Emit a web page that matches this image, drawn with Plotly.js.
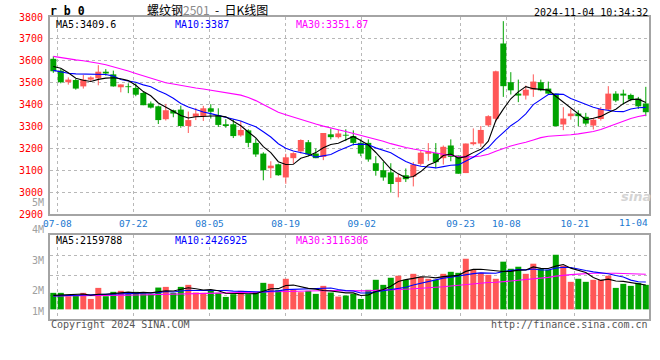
<!DOCTYPE html>
<html><head><meta charset="utf-8">
<script src="https://cdn.plot.ly/plotly-3.0.1.min.js"></script>
<style>html,body{margin:0;padding:0;background:#fff;}#chart{width:660px;height:360px;}</style>
</head><body><div id="chart"></div>
<script>
const dates = ['07-05',
'07-08','07-09','07-10','07-11','07-12','07-15','07-16','07-17','07-18','07-19',
'07-22','07-23','07-24','07-25','07-26','07-29','07-30','07-31','08-01','08-02',
'08-05','08-06','08-07','08-08','08-09','08-12','08-13','08-14','08-15','08-16',
'08-19','08-20','08-21','08-22','08-23','08-26','08-27','08-28','08-29','08-30',
'09-02','09-03','09-04','09-05','09-06','09-09','09-10','09-11','09-12','09-13',
'09-18','09-19','09-20','09-23','09-24','09-25','09-26','09-27','09-30',
'10-08','10-09','10-10','10-11','10-14','10-15','10-16','10-17','10-18',
'10-21','10-22','10-23','10-24','10-25','10-28','10-29','10-30','10-31','11-01','11-04'];

const open = [3609,3555,3502,3512,3483,3514,3520,3550,3538,3479,3483,3476,3453,3405,3392,3333,3374,3377,3302,3344,
3348,3383,3351,3310,3310,3259,3282,3225,3176,3109,3127,3067,3155,3186,3228,3176,3161,3264,3251,3262,
3256,3225,3225,3132,3100,3090,3046,3077,3071,3129,3175,3178,3155,3213,3167,3087,3219,3222,3305,3335,
3679,3502,3450,3441,3468,3502,3473,3450,3309,3347,3359,3344,3304,3334,3377,3450,3450,3444,3427,3405];
const high = [3620,3562,3524,3517,3535,3529,3580,3562,3555,3492,3497,3497,3458,3414,3395,3403,3377,3395,3368,3385,
3394,3402,3383,3333,3333,3325,3287,3245,3182,3141,3130,3175,3182,3241,3238,3199,3270,3290,3284,3287,
3282,3241,3241,3164,3139,3132,3083,3108,3137,3190,3224,3224,3213,3241,3167,3222,3291,3302,3351,3555,
3781,3548,3514,3487,3538,3514,3505,3450,3388,3380,3374,3362,3339,3389,3484,3461,3468,3450,3435,3481];
const low = [3545,3497,3491,3468,3473,3506,3488,3532,3482,3456,3452,3438,3397,3382,3311,3327,3342,3294,3270,3329,
3325,3336,3298,3294,3247,3253,3205,3161,3054,3064,3075,3038,3130,3176,3164,3155,3146,3241,3245,3233,
3213,3164,3139,3075,3052,2998,2976,3046,3026,3121,3143,3109,3126,3141,3084,3087,3213,3207,3299,3320,
3435,3446,3411,3423,3435,3461,3446,3301,3283,3331,3301,3304,3286,3327,3374,3411,3400,3415,3380,3347];
const close = [3552,3502,3514,3473,3514,3524,3550,3542,3483,3492,3480,3445,3397,3386,3329,3374,3359,3302,3329,3359,
3383,3367,3307,3302,3256,3284,3225,3172,3100,3121,3077,3159,3178,3238,3172,3155,3270,3251,3268,3258,
3225,3176,3149,3097,3067,3037,3067,3059,3126,3180,3186,3137,3207,3161,3084,3222,3228,3284,3347,3552,
3484,3465,3441,3468,3505,3465,3450,3301,3336,3359,3347,3313,3331,3380,3450,3418,3441,3423,3392,3365];

const ma5 = [3574,3566,3545,3520,3511,3505.4,3515,3520.6,3522.6,3518.2,3509.4,3488.4,3459.4,3440,3407.4,3386.2,3369,3350,3338.6,3344.6,
3346.4,3348,3349,3343.6,3323,3303.2,3274.8,3247.8,3207.4,3180.4,3139,3125.8,3127,3154.6,3164.8,3180.4,3202.6,3217.2,3223.2,3240.4,
3254.4,3235.6,3215.2,3181,3142.8,3105.2,3083.4,3065.4,3071.2,3093.8,3123.6,3137.6,3167.2,3174.2,3155,3162.2,3180.4,3195.8,3233,3326.6,
3379,3426.4,3457.8,3482,3472.6,3468.8,3465.8,3437.8,3411.4,3382.2,3358.6,3331.2,3337.2,3346,3364.2,3378.4,3404,3422.4,3424.8,3409.6];
const ma10 = [3556,3549,3543,3540,3539,3539,3539,3537,3530,3514.6,3507.4,3501.7,3490,3481.3,3462.8,3447.8,3428.7,3404.7,3389.3,3376,
3366.3,3358.5,3349.5,3341.1,3333.8,3324.8,3311.4,3298.4,3275.5,3251.7,3221.1,3200.3,3187.4,3181,3172.6,3159.7,3164.2,3172.1,3188.9,3202.6,
3217.4,3219.1,3216.2,3202.1,3191.6,3179.8,3159.5,3140.3,3126.1,3118.3,3114.4,3110.5,3116.3,3122.7,3124.4,3142.9,3159,3181.5,3203.6,3240.8,
3270.6,3303.4,3326.8,3357.5,3399.6,3423.9,3446.1,3447.8,3446.7,3427.4,3413.7,3398.5,3387.5,3378.7,3373.2,3368.5,3367.6,3379.8,3385.4,3387];
const ma30 = [3620,3614,3609,3604,3600,3596,3589,3582,3573,3564,3553,3542,3532,3520,3510,3500,3494,3487,3481,3476,
3471,3466,3459,3454,3449,3443,3432,3418,3400,3380.8,3364.9,3353.5,3342.3,3334.5,3323.1,3310.8,3301.4,3291.7,3284.6,3276.8,
3268.3,3259.3,3251,3241.4,3232.7,3221.4,3211.7,3203.6,3196.8,3190.9,3184.3,3176.6,3173.3,3168.6,3162.9,3160.8,3160.9,3164.6,3172.9,3187.2,
3200.8,3211,3219.8,3227.4,3238.5,3248.9,3254.9,3256.5,3258.8,3262.2,3266.2,3270.8,3276.9,3286.3,3299.1,3311.8,3324.2,3336.4,3345.2,3351.87];

const volume = [1467000,1467000,1167000,1227000,1467000,927000,1907000,1167000,1557000,1647000,
1377000,1557000,1407000,1347000,1937000,1997000,1467000,1997000,2177000,1497000,
1467000,1647000,1467000,1107000,1347000,1647000,1347000,1527000,2357000,2267000,
1707000,2717000,1737000,1527000,1647000,1377000,2087000,1497000,1137000,1227000,
1377000,927000,1737000,2627000,2177000,2807000,2987000,2627000,3157000,2867000,
2717000,2627000,3157000,3337000,3247000,4497000,3517000,3247000,3067000,2717000,
4237000,3607000,3787000,3157000,4057000,3607000,3517000,4857000,3877000,2447000,
2717000,2447000,2627000,2627000,2987000,1907000,2267000,2087000,2357000,2177000];
const volMa5 = [1240000,1260000,1280000,1310000,1359000,1251000,1339000,1339000,1405000,1441000,1531000,1461000,1509000,1467000,
1525000,1649000,1631000,1749000,1915000,1827000,1721000,1757000,1651000,1437000,
1407000,1443000,1383000,1395000,1645000,1829000,1841000,2115000,2157000,1991000,
1867000,1801000,1675000,1627000,1549000,1465000,1465000,1233000,1281000,1579000,
1769000,2055000,2467000,2645000,2751000,2889000,2871000,2799000,2905000,2941000,
3017000,3373000,3551000,3569000,3515000,3409000,3357000,3375000,3483000,3501000,
3769000,3643000,3625000,3839000,3983000,3661000,3483000,3269000,2823000,2573000,
2681000,2519000,2483000,2375000,2321000,2159788];
const volMa10 = [1180000,1200000,1220000,1240000,1260000,1280000,1300000,1330000,1370000,
1400000,1391000,1400000,1424000,1436000,1483000,1590000,1546000,1629000,1691000,
1676000,1685000,1694000,1700000,1676000,1617000,1582000,1570000,1523000,1541000,
1618000,1642000,1749000,1776000,1818000,1848000,1821000,1895000,1892000,1770000,
1666000,1633000,1454000,1454000,1564000,1617000,1760000,1850000,1963000,2165000,
2329000,2463000,2633000,2775000,2846000,2953000,3122000,3175000,3237000,3228000,
3213000,3365000,3463000,3526000,3508000,3589000,3500000,3500000,3661000,3742000,
3715000,3563000,3447000,3331000,3278000,3171000,3001000,2876000,2599000,2447000,2426925];
const volMa30 = [1200000,1200000,1210000,1210000,1220000,1220000,1230000,1230000,1240000,1250000,
1260000,1270000,1280000,1290000,1300000,1320000,1330000,1350000,1360000,1380000,
1400000,1420000,1440000,1460000,1480000,1500000,1520000,1540000,1550000,
1565000,1573000,1614000,1633000,1643000,1649000,1664000,1670000,1681000,1667000,
1653000,1653000,1632000,1643000,1686000,1694000,1721000,1772000,1793000,1825000,
1871000,1913000,1945000,2002000,2076000,2139000,2234000,2307000,2364000,2388000,
2403000,2487000,2517000,2585000,2639000,2720000,2794000,2842000,2954000,3045000,
3086000,3130000,3181000,3211000,3211000,3238000,3208000,3184000,3166000,3139000,3116306];

const tickDates = ['07-08','07-22','08-05','08-19','09-02','09-23','10-08','10-21','11-04'];
const volTickLabels = ['5M','4M','3M','2M','1M'];

// ---------- drawing ----------
const W=660,H=360,L=50,R=11,T=17,B=41;
const plotW=W-L-R, plotH=H-T-B;
const px = x => (x-L)/plotW;
const py = y => (H-B-y)/plotH;
const slot = 7.5;
const xRange = [-0.44, -0.44 + plotW/slot];

const RED='#ff5757', GREEN='#00a300';
const idx = dates.map((d,i)=>i);
const up = idx.map(i=>close[i]>=open[i]);
const cols = up.map(u=>u?RED:GREEN);

function wicks(isUp){
  const xs=[],ys=[];
  idx.forEach(i=>{ if(up[i]===isUp){ xs.push(i,i,null); ys.push(low[i],high[i],null);} });
  return {type:'scatter',mode:'lines',x:xs,y:ys,line:{color:isUp?RED:GREEN,width:1},xaxis:'x',yaxis:'y',hoverinfo:'skip'};
}
const minBody = 4;
const bodyH = idx.map(i=>Math.max(Math.abs(close[i]-open[i]),minBody));
const bodyBase = idx.map(i=>Math.min(open[i],close[i]) - (Math.abs(close[i]-open[i])<minBody ? (minBody-Math.abs(close[i]-open[i]))/2 : 0));

const gridPos = tickDates.map(d=>dates.indexOf(d)*1.0147 - 0.48);

const traces = [
  wicks(true), wicks(false),
  {type:'bar',x:idx,y:bodyH,base:bodyBase,width:0.8,marker:{color:cols,line:{width:0}},xaxis:'x',yaxis:'y',hoverinfo:'skip'},
  {type:'scatter',mode:'lines',x:idx,y:ma30,line:{color:'#ff00ff',width:1.1},xaxis:'x',yaxis:'y'},
  {type:'scatter',mode:'lines',x:idx,y:ma10,line:{color:'#0000ff',width:1.1},xaxis:'x',yaxis:'y'},
  {type:'scatter',mode:'lines',x:idx,y:ma5,line:{color:'#000000',width:1.1},xaxis:'x',yaxis:'y'},
  {type:'bar',x:idx,y:volume,width:0.8,marker:{color:cols,line:{width:0}},xaxis:'x2',yaxis:'y2',hoverinfo:'skip'},
  {type:'scatter',mode:'lines',x:idx,y:volMa30,line:{color:'#ff00ff',width:1.1},xaxis:'x2',yaxis:'y2'},
  {type:'scatter',mode:'lines',x:idx,y:volMa10,line:{color:'#0000ff',width:1.1},xaxis:'x2',yaxis:'y2'},
  {type:'scatter',mode:'lines',x:idx,y:volMa5,line:{color:'#000000',width:1.1},xaxis:'x2',yaxis:'y2'}
];

const MONO='DejaVu Sans Mono, monospace';
const GRID='#b8b8b8', FRAME='#a4a4a4';
const axisCommon = {showgrid:true,gridcolor:GRID,griddash:'dot',gridwidth:1,showline:true,linecolor:FRAME,linewidth:2,mirror:true,zeroline:false,ticks:'',fixedrange:true};

function ann(text,x,y,opt){
  return Object.assign({text:text,x:px(x),y:py(y),xref:'paper',yref:'paper',showarrow:false,xanchor:'left',yanchor:'middle',
    font:{family:MONO,size:10,color:'#000'}},opt||{});
}
const annotations = [
  ann('<b>r b 0</b>',48,11,{font:{family:MONO,size:11.5,color:'#000'}}),
  ann('螺纹钢<span style="color:#8a8a8a">2501</span>  -  日K线图',207,10,{xanchor:'center',font:{family:'Noto Sans CJK SC, sans-serif',size:12,color:'#000'}}),
  ann('2024-11-04 10:34:32',649.5,12,{xanchor:'right'}),
  ann('MA5:'+ma5[ma5.length-1],54,24),
  ann('MA10:'+ma10[ma10.length-1],173,24,{font:{family:MONO,size:10,color:'#0000ff'}}),
  ann('MA30:'+ma30[ma30.length-1],294,24,{font:{family:MONO,size:10,color:'#ff00ff'}}),
  ann('MA5:'+volMa5[volMa5.length-1],54,240),
  ann('MA10:'+volMa10[volMa10.length-1],173,240,{font:{family:MONO,size:10,color:'#0000ff'}}),
  ann('MA30:'+volMa30[volMa30.length-1],294,240,{font:{family:MONO,size:10,color:'#ff00ff'}}),
  ann('Copyright 2024 SINA.COM',49,324,{font:{family:MONO,size:10,color:'#555'}}),
  ann('http://finance.sina.com.cn',649.5,324,{xanchor:'right',font:{family:MONO,size:10,color:'#555'}}),
  ann(tickDates[tickDates.length-1],649.5,222,{xanchor:'right',font:{family:MONO,size:9.5,color:'#1a78d0'}}),
  ann('<b><i>sina</i></b>',636,196,{xanchor:'center',font:{family:'DejaVu Sans, sans-serif',size:13,color:'#d4d4d4'}})
];
const volLabelY = [202,230,260.7,290,311];
volTickLabels.forEach((t,k)=>annotations.push(ann(t,46,volLabelY[k],{xanchor:'right',font:{family:MONO,size:10,color:'#a0a0a0'}})));

const layout = {
  width:W,height:H,margin:{l:L,r:R,t:T,b:B,pad:0},
  paper_bgcolor:'#fff',plot_bgcolor:'#fff',showlegend:false,barmode:'overlay',
  xaxis:Object.assign({},axisCommon,{domain:[0,1],range:xRange,anchor:'y',tickmode:'array',tickvals:gridPos,ticktext:tickDates,
    tickfont:{family:MONO,size:9.5,color:'#1a78d0'}}),
  yaxis:Object.assign({},axisCommon,{domain:[py(214),1],range:[2900,3800],tickmode:'linear',tick0:2900,dtick:100,anchor:'x',
    tickfont:{family:MONO,size:10,color:'#ff0000'},ticklabelstandoff:3}),
  xaxis2:Object.assign({},axisCommon,{domain:[0,1],range:xRange,anchor:'y2',tickmode:'array',tickvals:gridPos,showticklabels:false}),
  yaxis2:Object.assign({},axisCommon,{domain:[0,py(235.3)],range:[-857000,6580000],anchor:'x2',tickmode:'array',tickvals:[1259000,3045000,4768000],showticklabels:false}),
  annotations:annotations
};
Plotly.newPlot('chart',traces,layout,{staticPlot:true,displayModeBar:false});
</script>
</body></html>
